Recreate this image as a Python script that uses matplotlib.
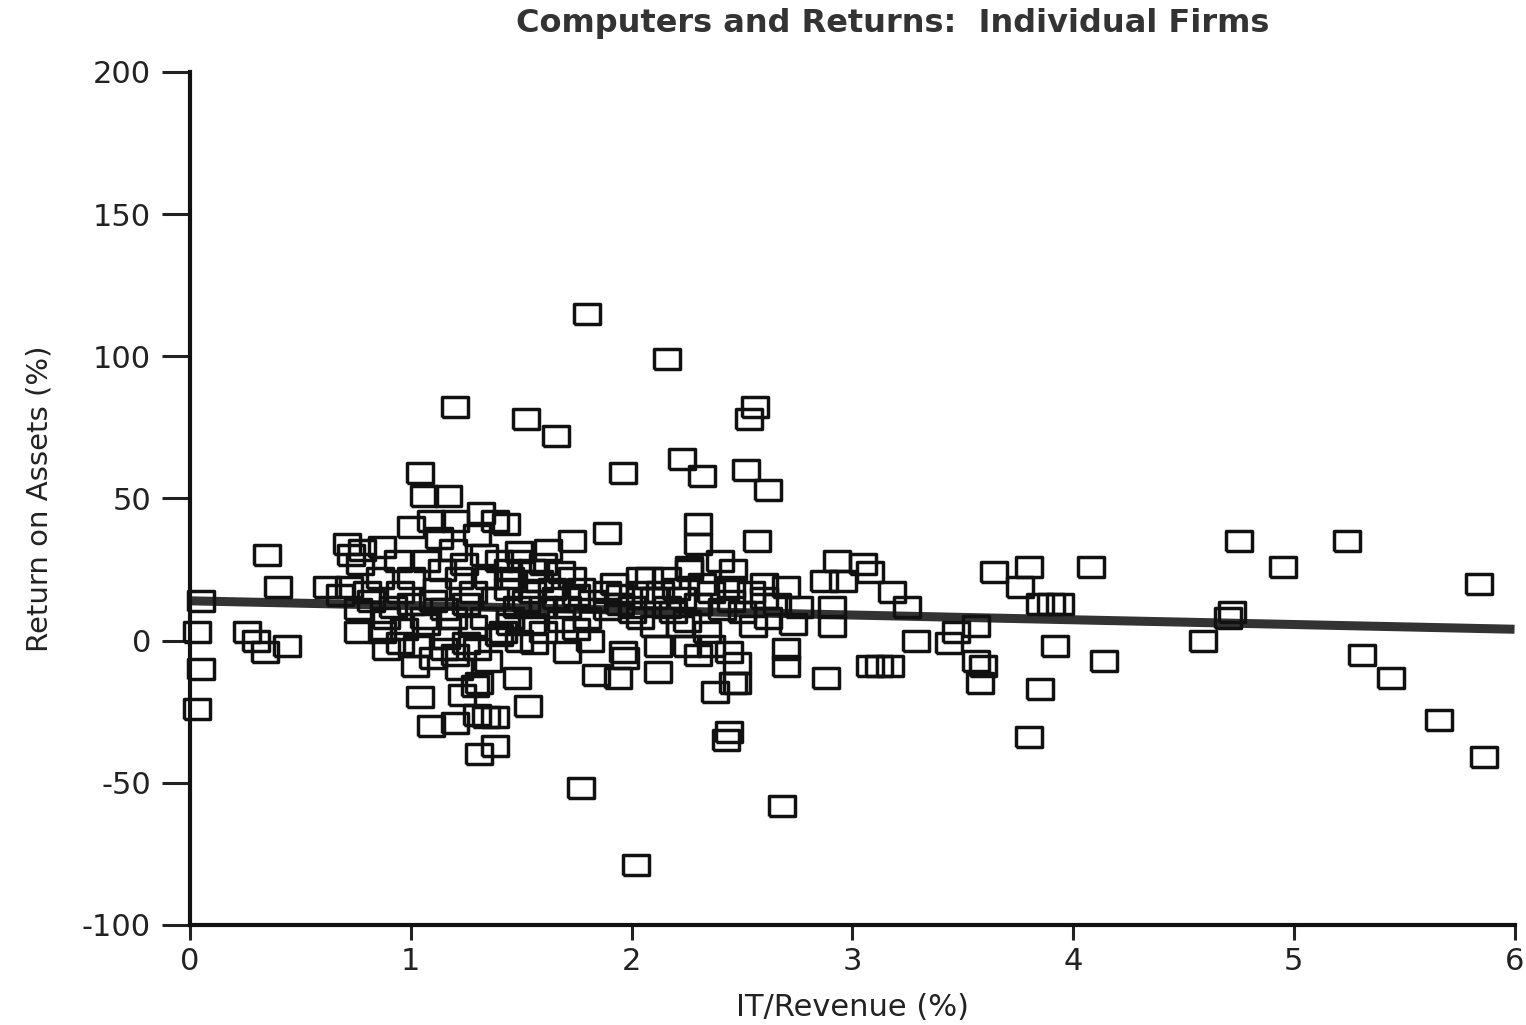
import numpy as np
import matplotlib
matplotlib.use("Agg")
import matplotlib.pyplot as plt

# the scan is stretched sideways, so a wide face fits the lettering better
plt.rcParams['font.family'] = ['DejaVu Sans']
plt.rcParams['axes.unicode_minus'] = False

# IT spending as % of revenue, one entry per firm
it_revenue = [
    # near zero
    0.05, 0.03, 0.05, 0.03,
    # low IT share
    0.35, 0.40, 0.26, 0.30, 0.34, 0.44, 0.62, 0.71, 0.76, 0.68, 0.73,
    # high returns
    1.04, 1.06, 1.17, 1.09, 1.20, 1.20, 1.32, 1.38, 1.00, 1.52, 1.66, 1.80,
    2.16, 1.96, 1.89, 1.73, 2.23, 2.32, 2.30, 2.30, 2.56, 2.53, 2.52, 2.62, 2.57,
    # losses
    1.77, 2.02, 2.68, 2.44, 2.43, 2.48, 2.46, 2.38, 2.48, 1.48, 1.53, 1.31,
    1.38, 1.30, 1.34, 1.38, 1.09, 1.04, 1.02, 1.20, 1.23, 1.29, 1.30, 1.84,
    1.94, 1.97, 2.12, 2.12, 2.25, 2.36, 1.71, 1.56, 1.81, 2.70, 2.70,
    # 3-4 %
    2.93, 3.05, 2.87, 3.08, 2.96, 3.18, 3.25, 2.91, 2.91, 2.70, 2.88, 3.08,
    3.12, 3.17, 3.29, 3.44, 3.56, 3.47, 3.56, 3.59, 3.58, 3.64, 3.80, 3.76,
    3.85, 3.90, 3.94, 4.08, 3.92, 4.14, 3.85, 3.80,
    # far right
    4.75, 4.95, 5.24, 5.84, 4.72, 4.70, 4.59, 5.31, 5.44, 5.66, 5.86,
    # dense cluster, 0.7-1.5
    0.78, 0.87, 1.13, 1.19, 1.30, 1.40, 0.77, 0.94, 1.07, 0.72, 0.86, 1.00,
    1.22, 1.35, 1.45, 0.80, 0.95, 1.12, 1.28, 1.44, 0.76, 0.89, 1.06, 1.19,
    1.33, 1.45, 0.87, 0.97, 1.07, 1.16, 1.28, 1.42, 0.89, 1.03, 1.15, 1.22,
    1.31,
    # dense cluster, 1.4-2.3
    1.62, 1.49, 1.43, 1.73, 1.55, 1.44, 1.89, 2.04, 2.16, 2.26, 1.64, 1.77,
    2.04, 1.55, 1.48, 1.60, 1.71, 1.89, 2.04, 2.16, 2.25, 1.45, 1.55, 1.68,
    1.80, 1.49, 1.96,
    # dense cluster, 2.0-2.8
    2.40, 2.26, 2.46, 2.08, 2.13, 2.23, 2.36, 2.54, 2.66, 2.76, 2.19, 2.30,
    2.41, 2.55, 2.73, 2.22, 2.34,
    # filling the core
    1.00, 1.10, 1.25, 1.38, 1.52, 1.66, 1.82, 1.95, 2.10, 1.15, 0.92, 0.82,
    1.58, 1.68, 1.75, 1.92, 2.00, 2.32, 2.45, 2.60, 2.50, 2.62, 1.10, 1.20,
    0.95, 1.35, 1.25, 1.40, 1.60, 1.75, 2.00, 2.20, 2.45, 2.60, 1.95, 2.10,
    2.30, 2.44, 1.14, 1.24, 1.33, 1.50, 1.60,
]

# return on assets, %
roa = [
    14, 3, -10, -24,
    30, 19, 3, 0, -4, -2, 19, 34, 3, 16, 30,
    59, 51, 51, 42, 42, 82, 45, 42, 40, 78, 72, 115,
    99, 59, 38, 35, 64, 58, 41, 34, 82, 78, 60, 53, 35,
    -52, -79, -58, -32, -35, -15, -15, -18, -8, -13, -23, -40,
    -37, -26, -27, -27, -30, -20, -9, -29, -19, -16, -3, -12,
    -13, -6, -11, -2, -2, -2, -4, -1, 0, -3, -9,
    28, 27, 21, 24, 21, 17, 12, 12, 5, 19, -13, -9,
    -9, -9, 0, -1, 5, 3, -7, -9, -15, 24, 26, 19,
    13, 13, 13, 26, -2, -7, -17, -34,
    35, 26, 35, 20, 10, 8, 0, -5, -13, -28, -41,
    32, 33, 36, 32, 37, 28, 27, 28, 28, 19, 22, 22,
    22, 22, 22, 17, 17, 18, 17, 18, 11, 8, 8, 8,
    8, 8, 3, 4, 6, 1, 5, 3, -3, -2, -3, -10,
    -15,
    32, 31, 41, 22, 25, 25, 17, 22, 22, 25, 18, 18,
    17, 17, 12, 12, 12, 11, 8, 12, 7, 6, 6, 7,
    8, 0, -4,
    28, 26, 25, 22, 17, 15, 17, 17, 13, 12, 10, 13,
    11, 5, 6, 5, 3,
    13, 14, 13, 15, 14, 15, 14, 13, 15, 11, 12, 14,
    21, 24, 16, 20, 12, 20, 19, 20, 10, 8, -6, -5,
    -1, -7, -1, 2, 3, 4, 10, 18, 14, 15, 16, 5,
    -5, -4, 25, 27, 30, 28, 27,
]

# fitted regression line as drawn
fit_x = [0, 6]
fit_y = [14, 4]

x_ticks = [0, 1, 2, 3, 4, 5, 6]
y_ticks = [-100, -50, 0, 50, 100, 150, 200]

fig = plt.figure(figsize=(15.26, 10.25), dpi=100)
ax = fig.add_axes([0.1245, 0.0976, 0.868, 0.8322])

ax.plot(fit_x, fit_y, color='#333333', lw=6.5, solid_capstyle='butt', zorder=2)

# squares are a bit wider than tall in the print
box = [(-1, -0.75), (1, -0.75), (1, 0.75), (-1, 0.75), (-1, -0.75)]
ax.plot(it_revenue, roa, ls='none', marker=box, ms=19, mfc='none',
        mec='#111111', mew=2.5, clip_on=False, zorder=3)

ax.set_xlim(0, 6)
ax.set_ylim(-100, 200)
ax.set_xticks(x_ticks)
ax.set_yticks(y_ticks)
ax.set_xticklabels([str(v) for v in x_ticks])
ax.set_yticklabels([str(v) for v in y_ticks])

for side in ['top', 'right']:
    ax.spines[side].set_visible(False)
for side in ['left', 'bottom']:
    ax.spines[side].set_linewidth(3)
    ax.spines[side].set_color('#111111')

ax.tick_params(axis='y', length=20, width=2.2, pad=8, labelsize=22, colors='#222222')
ax.tick_params(axis='x', length=11, width=2.2, pad=5, labelsize=22, colors='#222222')

ax.set_xlabel('IT/Revenue (%)', fontsize=22, labelpad=12, color='#222222')
ax.set_ylabel('Return on Assets (%)', fontsize=21, color='#222222')
ax.yaxis.set_label_coords(-0.103, 0.5)
fig.text(0.585, 0.977, 'Computers and Returns:  Individual Firms',
         fontsize=23, fontweight='bold', ha='center', va='center', color='#333333')

fig.savefig('out.png', dpi=100, facecolor='white')
